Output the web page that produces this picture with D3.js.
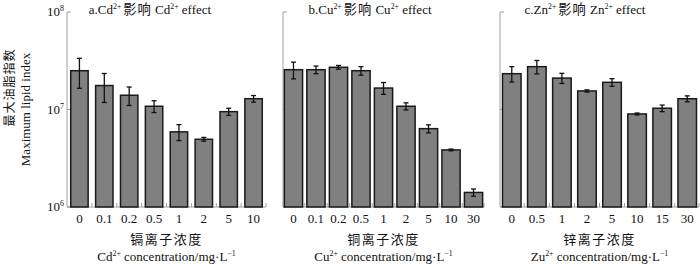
<!DOCTYPE html>
<html lang="zh">
<head>
  <meta charset="UTF-8">
  <title>Maximum lipid index</title>
  <script src="https://d3js.org/d3.v7.min.js"></script>
  <style>
    body { margin: 0; background: #fff; }
    text { font-family: "Liberation Serif", "Noto Sans CJK SC", serif; fill: #111; }
    .cjk { font-family: "Noto Sans CJK SC", sans-serif; }
  </style>
</head>
<body>
  <div id="chart"></div>
  <script>
    // data
    const cdConc = ["0", "0.1", "0.2", "0.5", "1", "2", "5", "10"];
    const cdMean = [2.5e7, 1.76e7, 1.40e7, 1.08e7, 5.9e6, 4.95e6, 9.5e6, 1.29e7];
    const cdErr = [0.85e7, 0.58e7, 0.3e7, 0.15e7, 1.1e6, 0.22e6, 0.8e6, 0.1e7];

    const cuConc = ["0", "0.1", "0.2", "0.5", "1", "2", "5", "10", "30"];
    const cuMean = [2.56e7, 2.56e7, 2.71e7, 2.5e7, 1.66e7, 1.08e7, 6.36e6, 3.85e6, 1.41e6];
    const cuErr = [0.5e7, 0.23e7, 0.12e7, 0.25e7, 0.23e7, 0.09e7, 0.6e6, 0.08e6, 0.12e6];

    const znConc = ["0", "0.5", "1", "2", "5", "10", "15", "30"];
    const znMean = [2.33e7, 2.75e7, 2.10e7, 1.55e7, 1.90e7, 9.0e6, 1.03e7, 1.29e7];
    const znErr = [0.42e7, 0.43e7, 0.25e7, 0.04e7, 0.17e7, 0.2e6, 0.08e7, 0.09e7];

    const yTicks = [1e6, 1e7, 1e8];

    const W = 700, H = 264;
    const plotTop = 12, plotBottom = 207;

    const svg = d3.select("#chart").append("svg")
      .attr("width", W)
      .attr("height", H);

    const y = d3.scaleLog().domain([1e6, 1e8]).range([plotBottom, plotTop]);

    // helper: text with superscripts, parts = [[str, kind], ...]
    // kind 1 = superscript, kind 2 = chinese
    function richText(sel, parts, size) {
      parts.forEach(([s, kind]) => {
        const t = sel.append("tspan").text(s);
        if (kind === 1) t.attr("font-size", size * 0.6).attr("baseline-shift", "60%");
        else if (kind === 2) t.attr("class", "cjk").attr("font-size", size * 1.02)
          .attr("letter-spacing", 1).attr("dx", 2);
      });
    }

    function drawPanel(p) {
      const x = d3.scaleBand()
        .domain(p.conc)
        .range([p.x0, p.x1])
        .paddingInner(p.pin)
        .paddingOuter(p.pout);

      const g = svg.append("g");

      // axes lines (gray)
      g.append("line")
        .attr("x1", p.x0).attr("x2", p.x0)
        .attr("y1", plotTop).attr("y2", plotBottom)
        .attr("stroke", "#a0a0a0").attr("stroke-width", 1);
      g.append("line")
        .attr("x1", p.x0).attr("x2", p.x1)
        .attr("y1", plotBottom).attr("y2", plotBottom)
        .attr("stroke", "#a0a0a0").attr("stroke-width", 1);

      // y ticks pointing inwards
      g.selectAll(".yt").data(yTicks).enter().append("line")
        .attr("x1", p.x0).attr("x2", p.x0 + 4)
        .attr("y1", d => y(d)).attr("y2", d => y(d))
        .attr("stroke", "#a0a0a0");

      // x ticks between bars
      const bounds = p.conc.slice(1).map(c => x(c) - x.step() * x.paddingInner() / 2);
      bounds.push(p.x1);
      g.selectAll(".xt").data(bounds).enter().append("line")
        .attr("x1", d => d).attr("x2", d => d)
        .attr("y1", plotBottom).attr("y2", plotBottom - 4)
        .attr("stroke", "#a0a0a0");

      const data = p.conc.map((c, i) => ({ c, m: p.mean[i], e: p.err[i] }));

      g.selectAll(".bar").data(data).enter().append("rect")
        .attr("x", d => x(d.c))
        .attr("y", d => y(d.m))
        .attr("width", x.bandwidth())
        .attr("height", d => plotBottom - y(d.m))
        .attr("fill", "#808080")
        .attr("stroke", "#1a1a1a")
        .attr("stroke-width", 1.5);

      // error bars
      const eb = g.selectAll(".err").data(data).enter().append("g")
        .attr("stroke", "#111").attr("stroke-width", 1.3);
      const cx = d => x(d.c) + x.bandwidth() / 2;
      eb.append("line")
        .attr("x1", cx).attr("x2", cx)
        .attr("y1", d => y(d.m + d.e)).attr("y2", d => y(d.m - d.e));
      eb.append("line")
        .attr("x1", d => cx(d) - 2.5).attr("x2", d => cx(d) + 2.5)
        .attr("y1", d => y(d.m + d.e)).attr("y2", d => y(d.m + d.e));
      eb.append("line")
        .attr("x1", d => cx(d) - 2.5).attr("x2", d => cx(d) + 2.5)
        .attr("y1", d => y(d.m - d.e)).attr("y2", d => y(d.m - d.e));

      // x tick labels
      g.selectAll(".xl").data(p.conc).enter().append("text")
        .attr("x", d => x(d) + x.bandwidth() / 2)
        .attr("y", 223)
        .attr("text-anchor", "middle")
        .attr("font-size", 13)
        .text(d => d);

      // title
      const mid = (p.x0 + p.x1) / 2;
      const title = g.append("text")
        .attr("x", p.titleX)
        .attr("y", 14)
        .attr("text-anchor", "middle")
        .attr("font-size", 13);
      richText(title, p.title, 13);

      // x axis labels
      g.append("text")
        .attr("class", "cjk")
        .attr("x", mid).attr("y", 244)
        .attr("text-anchor", "middle")
        .attr("font-size", 13)
        .attr("letter-spacing", 1.5)
        .text(p.zhLabel);
      const en = g.append("text")
        .attr("x", mid).attr("y", 261)
        .attr("text-anchor", "middle")
        .attr("font-size", 13);
      richText(en, p.enLabel, 13);
    }

    drawPanel({
      conc: cdConc, mean: cdMean, err: cdErr,
      x0: 67, x1: 266, pin: 0.3, pout: 0.15, titleX: 150,
      title: [["a.Cd"], ["2+", 1], ["影响", 2], [" Cd"], ["2+", 1], [" effect"]],
      zhLabel: "镉离子浓度",
      enLabel: [["Cd"], ["2+", 1], [" concentration/mg·L"], ["−1", 1]]
    });
    drawPanel({
      conc: cuConc, mean: cuMean, err: cuErr,
      x0: 283, x1: 484, pin: 0.19, pout: 0.06, titleX: 370,
      title: [["b.Cu"], ["2+", 1], ["影响", 2], [" Cu"], ["2+", 1], [" effect"]],
      zhLabel: "铜离子浓度",
      enLabel: [["Cu"], ["2+", 1], [" concentration/mg·L"], ["−1", 1]]
    });
    drawPanel({
      conc: znConc, mean: znMean, err: znErr,
      x0: 500, x1: 699, pin: 0.26, pout: 0.1, titleX: 585,
      title: [["c.Zn"], ["2+", 1], ["影响", 2], [" Zn"], ["2+", 1], [" effect"]],
      zhLabel: "锌离子浓度",
      enLabel: [["Zu"], ["2+", 1], [" concentration/mg·L"], ["−1", 1]]
    });

    // y tick labels (panel a only)
    const yl = svg.selectAll(".yl").data(yTicks).enter().append("text")
      .attr("x", 47)
      .attr("y", d => y(d) + 4)
      .attr("font-size", 13);
    yl.append("tspan").text("10");
    yl.append("tspan")
      .attr("font-size", 8)
      .attr("baseline-shift", "60%")
      .text(d => Math.round(Math.log10(d)));

    // y axis title
    const yc = (plotTop + plotBottom) / 2;
    svg.append("text")
      .attr("class", "cjk")
      .attr("transform", `translate(14,${yc - 22}) rotate(-90)`)
      .attr("text-anchor", "middle")
      .attr("font-size", 12)
      .attr("letter-spacing", 1)
      .text("最大油脂指数");
    svg.append("text")
      .attr("transform", `translate(30,${yc}) rotate(-90)`)
      .attr("text-anchor", "middle")
      .attr("font-size", 13)
      .text("Maximum lipid index");
  </script>
</body>
</html>
